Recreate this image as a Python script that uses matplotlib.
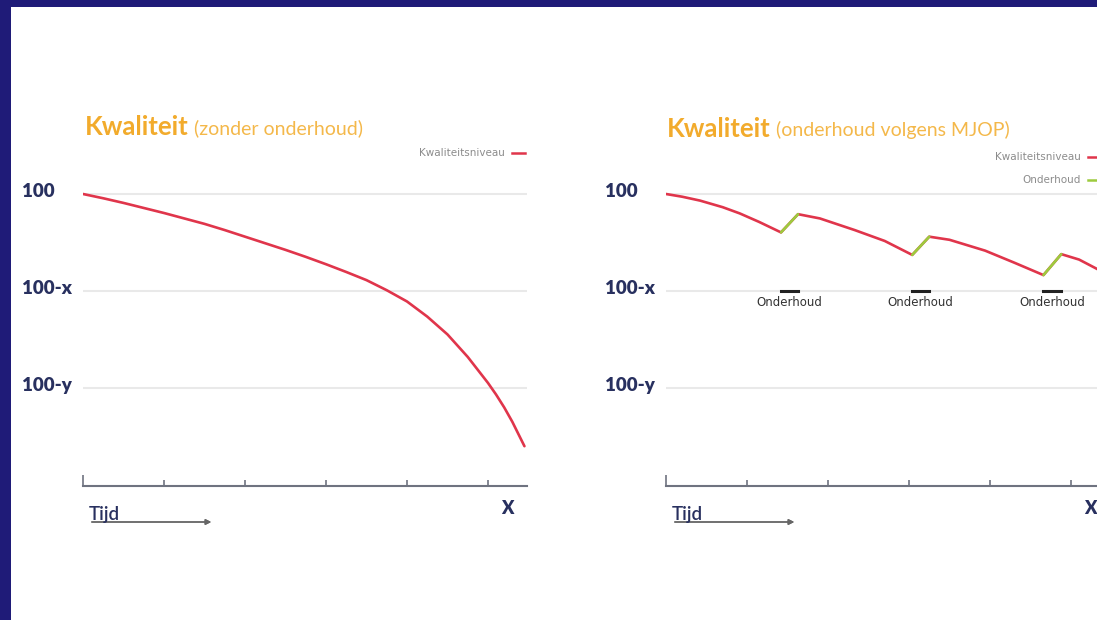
import matplotlib
matplotlib.use("Agg")
import matplotlib.pyplot as plt
import matplotlib.transforms as mtransforms
from matplotlib.lines import Line2D
from matplotlib.patches import Rectangle

plt.rcParams['font.family'] = ['Lato', 'DejaVu Sans']

# y-levels and their labels
level_values = [100, 75, 50]
level_labels = ["100", "100-x", "100-y"]
tick_pos = [0, 1, 2, 3, 4, 5]

# left: quality without maintenance
decay_x = [0, 0.25, 0.5, 0.75, 1, 1.25, 1.5, 1.75, 2, 2.25, 2.5, 2.75, 3, 3.25, 3.5,
           3.75, 4, 4.25, 4.5, 4.75, 5, 5.1, 5.2, 5.3, 5.45]
decay_y = [100, 98.9, 97.7, 96.4, 95.1, 93.7, 92.3, 90.7, 89.0, 87.3, 85.6, 83.8, 81.9, 79.9, 77.8,
           75.2, 72.3, 68.4, 63.8, 58.0, 51.3, 48.3, 45.0, 41.3, 35]

# right: quality with maintenance (MJOP)
mjop_x = [0, 0.2, 0.42, 0.7, 0.91, 1.15, 1.42,
          1.63, 1.9, 2.33, 2.7, 3.04,
          3.25, 3.5, 3.94, 4.3, 4.66,
          4.88, 5.1, 5.32, 5.45]
mjop_y = [100, 99.3, 98.3, 96.6, 95.0, 92.8, 90.1,
          94.8, 93.7, 90.7, 87.9, 84.3,
          89.0, 88.2, 85.4, 82.3, 79.1,
          84.5, 83.1, 80.7, 79.2]
# a maintenance step is where the level goes up again
maint_idx = [i for i in range(len(mjop_y) - 1) if mjop_y[i + 1] > mjop_y[i]]

W, H = 1097, 620
NAVY = '#1f1b78'
TXT = '#28305f'
ORANGE = '#f2ab2c'
ORANGE_L = '#f4b84a'
RED = '#e0354b'
GREEN = '#9dcb3e'
AXIS = '#6f7380'
GRID = '#e9e9e9'


def fx(x):
    return x / W


def fy(y):
    return 1 - y / H


fig = plt.figure(figsize=(W / 100, H / 100), dpi=100, facecolor=NAVY)
fig.patches.append(Rectangle((fx(11), 0), 1 - fx(11), fy(7), transform=fig.transFigure,
                             facecolor='white', edgecolor='none', zorder=-10))

scale = 3.88   # px per y unit
ax_top, ax_bot = 140, 486
ylo = 100 - (ax_bot - 194) / scale
yhi = 100 + (194 - ax_top) / scale


def make_axes(x0):
    ax = fig.add_axes([fx(x0), fy(ax_bot), 444 / W, (ax_bot - ax_top) / H])
    ax.set_facecolor('none')
    ax.set_xlim(0, 444 / 81)
    ax.set_ylim(ylo, yhi)
    for s in ['top', 'left', 'right']:
        ax.spines[s].set_visible(False)
    ax.spines['bottom'].set_color(AXIS)
    ax.spines['bottom'].set_linewidth(1.5)
    ax.set_yticks([])
    ax.set_xticks(tick_pos[:1])
    ax.set_xticks(tick_pos[1:], minor=True)
    ax.set_xticklabels([])
    ax.tick_params(axis='x', which='major', direction='in', length=8, width=1.2, color=AXIS)
    ax.tick_params(axis='x', which='minor', direction='in', length=4.5, width=1.2, color=AXIS)
    for v in level_values:
        ax.axhline(v, color=GRID, lw=1.5, zorder=0)
    trans = mtransforms.blended_transform_factory(fig.transFigure, ax.transData)
    for v, lab in zip(level_values, level_labels):
        ax.text(fx(x0 - 61), v + 0.6, lab, transform=trans, ha='left', va='center',
                fontsize=13.5, fontweight='heavy', color=TXT)
    return ax


def title(x0, y, bold, rest):
    t = fig.text(fx(x0), fy(y), bold, fontsize=18.5, fontweight='bold', color=ORANGE,
                 va='center', ha='left')
    fig.canvas.draw()
    bb = t.get_window_extent()
    fig.text(fx(bb.x1 + 5), fy(y + 1), rest, fontsize=14, color=ORANGE_L, va='center', ha='left')


def time_axis(x0, xlab):
    fig.text(fx(x0 + 6), fy(520), "Tijd", fontsize=13.5, fontweight='semibold', color=TXT,
             ha='left', va='baseline')
    fig.add_artist(plt.annotate('', xy=(fx(x0 + 131), fy(522)), xytext=(fx(x0 + 6), fy(522)),
                                xycoords='figure fraction', textcoords='figure fraction',
                                arrowprops=dict(arrowstyle='-|>', color='#666666', lw=1,
                                                mutation_scale=8)))
    fig.text(fx(xlab), fy(508), "X", fontsize=13, fontweight='heavy', color=TXT,
             ha='left', va='center')


def legend_item(xr, y, label, color):
    fig.text(fx(xr - 8), fy(y), label, fontsize=7.5, color='#8c8c8c', ha='right', va='center',
             family='DejaVu Sans')
    fig.add_artist(Line2D([fx(xr - 1), fx(xr + 12)], [fy(y), fy(y)], color=color, lw=1.8,
                          transform=fig.transFigure))


# left panel
ax1 = make_axes(83)
ax1.plot(decay_x, decay_y, color=RED, lw=1.9, solid_capstyle='round')
title(85, 127, "Kwaliteit", "(zonder onderhoud)")
legend_item(513, 153, "Kwaliteitsniveau", RED)
time_axis(83, 501)

# right panel
ax2 = make_axes(666)
ax2.plot(mjop_x, mjop_y, color=RED, lw=1.9, solid_capstyle='round')
for i in maint_idx:
    ax2.plot(mjop_x[i:i + 2], mjop_y[i:i + 2], color=GREEN, lw=1.9, solid_capstyle='round')
    ax2.plot(mjop_x[i:i + 2], [75.1, 75.1], color='#222222', lw=2.2)
    ax2.text((mjop_x[i] + mjop_x[i + 1]) / 2, 72.0, "Onderhoud", fontsize=8.5, color='#333333',
             ha='center', va='center', family='DejaVu Sans')
title(667, 129, "Kwaliteit", "(onderhoud volgens MJOP)")
legend_item(1089, 157, "Kwaliteitsniveau", RED)
legend_item(1089, 180, "Onderhoud", GREEN)
time_axis(666, 1084)

fig.savefig("out.png", dpi=100, facecolor=NAVY)
